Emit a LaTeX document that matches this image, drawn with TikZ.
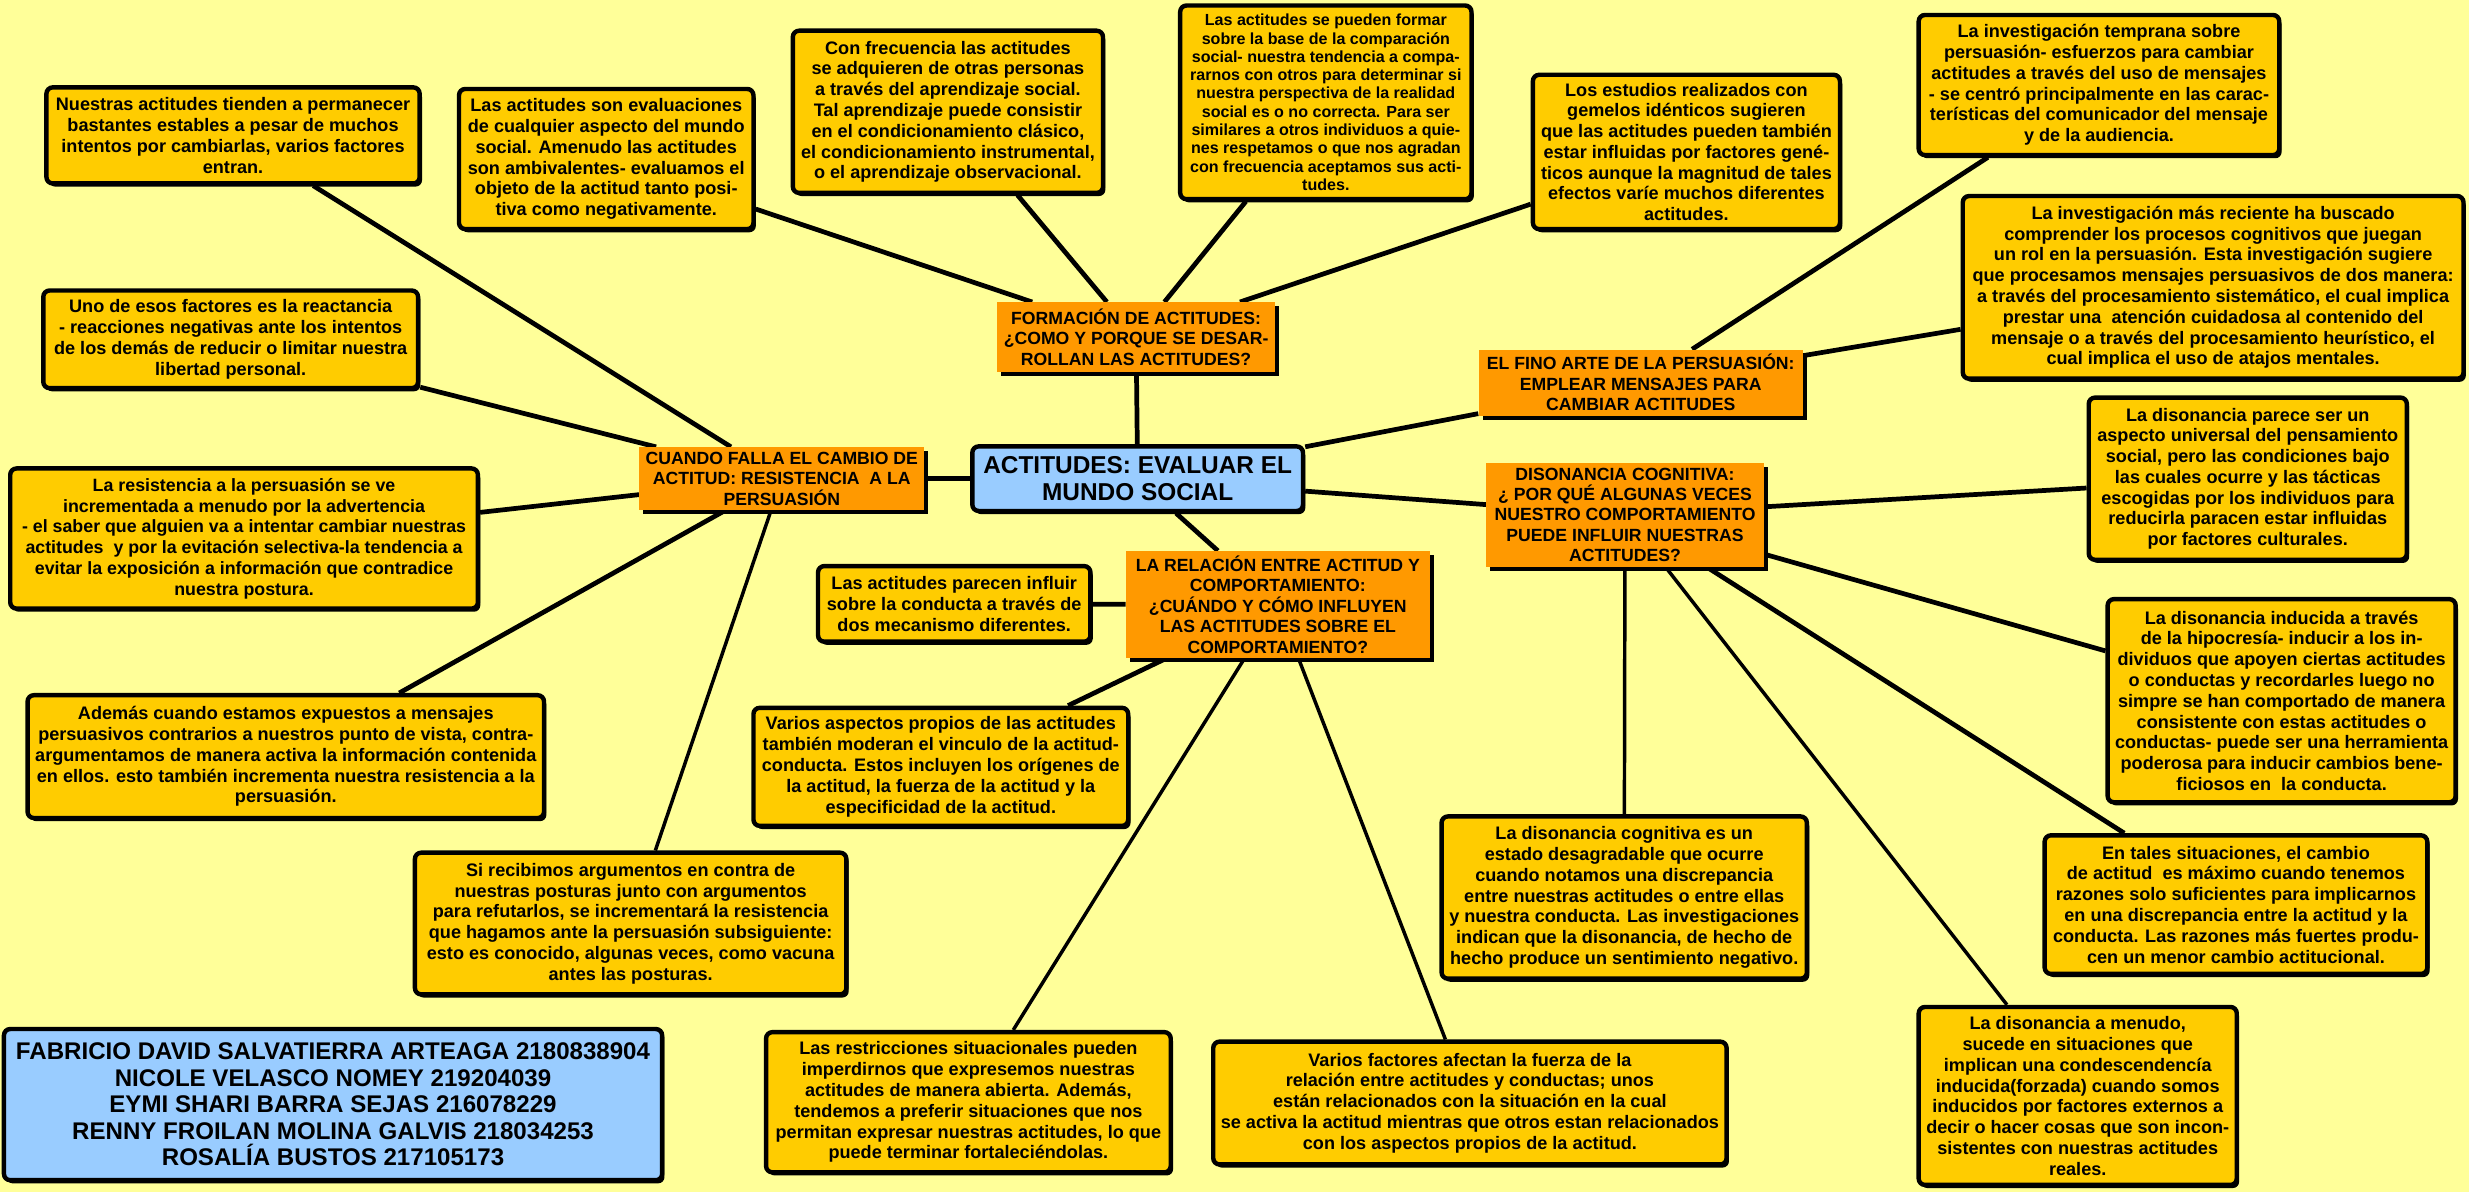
\documentclass[tikz,border=0pt]{standalone}
\usepackage{fontspec}
\setmainfont{Liberation Sans}
\usepackage{tikz}
\usetikzlibrary{positioning,shadows,backgrounds}
\usepackage{xcolor}
\definecolor{fondoCrema}{RGB}{255,255,153}
\definecolor{hojaOro}{RGB}{255,204,0}
\definecolor{temaNaranja}{RGB}{255,153,0}
\definecolor{centroAzul}{RGB}{153,204,255}

\begin{document}
\begin{tikzpicture}[x=1pt,y=-1pt,
  hoja/.style={draw=black,line width=2.8pt,rounded corners=4pt,fill=hojaOro,align=center,inner sep=0.5pt,
    font=\bfseries\fontsize{11.5}{13.2}\selectfont,
    drop shadow={shadow xshift=1.5pt,shadow yshift=-2pt,fill=black,opacity=1}},
  tema/.style={fill=temaNaranja,align=center,inner sep=0.5pt,
    font=\bfseries\fontsize{11.2}{13}\selectfont,
    drop shadow={shadow xshift=2.5pt,shadow yshift=-2.5pt,fill=black,opacity=1}},
  central/.style={draw=black,line width=2.8pt,rounded corners=4pt,fill=centroAzul,align=center,inner sep=0.5pt,
    drop shadow={shadow xshift=1.5pt,shadow yshift=-2pt,fill=black,opacity=1}},
  enlace/.style={line width=3pt},
  delgado/.style={line width=2.2pt}]
  \useasboundingbox (0,0) rectangle (1568,757);

  % tema central y ramas
  \node[central,font=\bfseries\fontsize{15.5}{17}\selectfont,minimum width=210pt,minimum height=41pt] (centro) at (722.5,304)
    {ACTITUDES: EVALUAR EL\\MUNDO SOCIAL};
  \node[tema,minimum width=177pt,minimum height=44pt] (formacion) at (721.5,214)
    {FORMACIÓN DE ACTITUDES:\\¿COMO Y PORQUE SE DESAR-\\ROLLAN LAS ACTITUDES?};
  \node[tema,minimum width=206pt,minimum height=42pt] (fino) at (1042,243)
    {EL FINO ARTE DE LA PERSUASIÓN:\\EMPLEAR MENSAJES PARA\\CAMBIAR ACTITUDES};
  \node[tema,minimum width=176pt,minimum height=66pt] (disonancia) at (1032,327)
    {DISONANCIA COGNITIVA:\\¿ POR QUÉ ALGUNAS VECES\\NUESTRO COMPORTAMIENTO\\PUEDE INFLUIR NUESTRAS\\ACTITUDES?};
  \node[tema,minimum width=193pt,minimum height=68pt] (relacion) at (811.5,384)
    {LA RELACIÓN ENTRE ACTITUD Y\\COMPORTAMIENTO:\\¿CUÁNDO Y CÓMO INFLUYEN\\LAS ACTITUDES SOBRE EL\\COMPORTAMIENTO?};
  \node[tema,minimum width=181pt,minimum height=40pt] (resistencia) at (496.5,304)
    {CUANDO FALLA EL CAMBIO DE\\ACTITUD: RESISTENCIA\ \ A LA\\PERSUASIÓN};

  % formacion
  \node[hoja,minimum width=187pt,minimum height=89pt] (evaluaciones) at (385,101)
    {Las actitudes son evaluaciones\\de cualquier aspecto del mundo\\social. Amenudo las actitudes\\son ambivalentes- evaluamos el\\objeto de la actitud tanto posi-\\tiva como negativamente.};
  \node[hoja,minimum width=197pt,minimum height=103pt] (aprendizaje) at (602,71)
    {Con frecuencia las actitudes\\se adquieren de otras personas\\a través del aprendizaje social.\\Tal aprendizaje puede consistir\\en el condicionamiento clásico,\\el condicionamiento instrumental,\\o el aprendizaje observacional.};
  \node[hoja,font=\bfseries\fontsize{10.2}{11.6}\selectfont,minimum width=185pt,minimum height=123pt] (comparacion) at (842,65)
    {Las actitudes se pueden formar\\sobre la base de la comparación\\social- nuestra tendencia a compa-\\rarnos con otros para determinar si\\nuestra perspectiva de la realidad\\social es o no correcta. Para ser\\similares a otros individuos a quie-\\nes respetamos o que nos agradan\\con frecuencia aceptamos sus acti-\\tudes.};
  \node[hoja,minimum width=195pt,minimum height=98pt] (gemelos) at (1071,96.5)
    {Los estudios realizados con\\gemelos idénticos sugieren\\que las actitudes pueden también\\estar influidas por factores gené-\\ticos aunque la magnitud de tales\\efectos varíe muchos diferentes\\actitudes.};

  % persuasion
  \node[hoja,minimum width=229pt,minimum height=89pt] (temprana) at (1333,54)
    {La investigación temprana sobre\\persuasión- esfuerzos para cambiar\\actitudes a través del uso de mensajes\\- se centró principalmente en las carac-\\terísticas del comunicador del mensaje\\y de la audiencia.};
  \node[hoja,minimum width=318pt,minimum height=116pt] (reciente) at (1405.5,182.5)
    {La investigación más reciente ha buscado\\comprender los procesos cognitivos que juegan\\un rol en la persuasión. Esta investigación sugiere\\que procesamos mensajes persuasivos de dos manera:\\a través del procesamiento sistemático, el cual implica\\prestar una\ \ atención cuidadosa al contenido del\\mensaje o a través del procesamiento heurístico, el\\cual implica el uso de atajos mentales.};

  % disonancia
  \node[hoja,minimum width=202pt,minimum height=103pt] (universal) at (1427.5,304)
    {La disonancia parece ser un\\aspecto universal del pensamiento\\social, pero las condiciones bajo\\las cuales ocurre y las tácticas\\escogidas por los individuos para\\reducirla paracen estar influidas\\por factores culturales.};
  \node[hoja,minimum width=221pt,minimum height=129pt] (hipocresia) at (1449,445)
    {La disonancia inducida a través\\de la hipocresía- inducir a los in-\\dividuos que apoyen ciertas actitudes\\o conductas y recordarles luego no\\simpre se han comportado de manera\\consistente con estas actitudes o\\conductas- puede ser una herramienta\\poderosa para inducir cambios bene-\\ficiosos en\ \ la conducta.};
  \node[hoja,minimum width=243pt,minimum height=88pt] (tales) at (1420,574.5)
    {En tales situaciones, el cambio\\de actitud\ \ es máximo cuando tenemos\\razones solo suficientes para implicarnos\\en una discrepancia entre la actitud y la\\conducta. Las razones más fuertes produ-\\cen un menor cambio actitucional.};
  \node[hoja,minimum width=202pt,minimum height=113pt] (menudo) at (1319.5,696)
    {La disonancia a menudo,\\sucede en situaciones que\\implican una condescendencía\\inducida(forzada) cuando somos\\inducidos por factores externos a\\decir o hacer cosas que son incon-\\sistentes con nuestras actitudes\\reales.};
  \node[hoja,minimum width=232pt,minimum height=103pt] (desagradable) at (1031.5,570)
    {La disonancia cognitiva es un\\estado desagradable que ocurre\\cuando notamos una discrepancia\\entre nuestras actitudes o entre ellas\\y nuestra conducta. Las investigaciones\\indican que la disonancia, de hecho de\\hecho produce un sentimiento negativo.};

  % relacion actitud-comportamiento
  \node[hoja,minimum width=173pt,minimum height=48pt] (mecanismos) at (606,383.5)
    {Las actitudes parecen influir\\sobre la conducta a través de\\dos mecanismo diferentes.};
  \node[hoja,minimum width=238pt,minimum height=75pt] (aspectos) at (597.5,487)
    {Varios aspectos propios de las actitudes\\también moderan el vinculo de la actitud-\\conducta. Estos incluyen los orígenes de\\la actitud, la fuerza de la actitud y la\\especificidad de la actitud.};
  \node[hoja,minimum width=257pt,minimum height=89pt] (restricciones) at (615,700)
    {Las restricciones situacionales pueden\\imperdirnos que expresemos nuestras\\actitudes de manera abierta. Además,\\tendemos a preferir situaciones que nos\\permitan expresar nuestras actitudes, lo que\\puede terminar fortaleciéndolas.};
  \node[hoja,minimum width=326pt,minimum height=78pt] (fuerza) at (933.5,700.5)
    {Varios factores afectan la fuerza de la\\relación entre actitudes y conductas; unos\\están relacionados con la situación en la cual\\se activa la actitud mientras que otros estan relacionados\\con los aspectos propios de la actitud.};

  % resistencia
  \node[hoja,minimum width=237pt,minimum height=61pt] (estables) at (148,86)
    {Nuestras actitudes tienden a permanecer\\bastantes estables a pesar de muchos\\intentos por cambiarlas, varios factores\\entran.};
  \node[hoja,minimum width=238pt,minimum height=62pt] (reactancia) at (146.5,215.5)
    {Uno de esos factores es la reactancia\\- reacciones negativas ante los intentos\\de los demás de reducir o limitar nuestra\\libertad personal.};
  \node[hoja,font=\bfseries\fontsize{11.3}{13.2}\selectfont,minimum width=297pt,minimum height=89pt] (advertencia) at (155,342)
    {La resistencia a la persuasión se ve\\incrementada a menudo por la advertencia\\- el saber que alguien va a intentar cambiar nuestras\\actitudes\ \ y por la evitación selectiva-la tendencia a\\evitar la exposición a información que contradice\\nuestra postura.};
  \node[hoja,minimum width=328pt,minimum height=78pt] (expuestos) at (181.5,480.5)
    {Además cuando estamos expuestos a mensajes\\persuasivos contrarios a nuestros punto de vista, contra-\\argumentamos de manera activa la información contenida\\en ellos. esto también incrementa nuestra resistencia a la\\persuasión.};
  \node[hoja,minimum width=274pt,minimum height=90pt] (vacuna) at (400.5,586.5)
    {Si recibimos argumentos en contra de\\nuestras posturas junto con argumentos\\para refutarlos, se incrementará la resistencia\\que hagamos ante la persuasión subsiguiente:\\esto es conocido, algunas veces, como vacuna\\antes las posturas.};

  % autores
  \node[central,font=\bfseries\fontsize{15.3}{16.8}\selectfont,minimum width=418pt,minimum height=96pt] (autores) at (211.5,701.5)
    {FABRICIO DAVID SALVATIERRA ARTEAGA 2180838904\\NICOLE VELASCO NOMEY 219204039\\EYMI SHARI BARRA SEJAS 216078229\\RENNY FROILAN MOLINA GALVIS 218034253\\ROSALÍA BUSTOS 217105173};

  \begin{scope}[on background layer]
    \fill[fondoCrema] (0,0) rectangle (1568,757);
    \draw[enlace] (centro) -- (formacion);
    \draw[enlace] (centro) -- (fino);
    \draw[enlace] (centro) -- (disonancia);
    \draw[enlace] (centro) -- (resistencia);
    \draw[enlace] (centro) -- (relacion);
    \foreach \h in {evaluaciones,aprendizaje,comparacion,gemelos}
      \draw[enlace] (formacion) -- (\h);
    \foreach \h in {temprana,reciente}
      \draw[enlace] (fino) -- (\h);
    \foreach \h in {universal,hipocresia,tales}
      \draw[enlace] (disonancia) -- (\h);
    \draw[delgado] (disonancia) -- (menudo);
    \draw[delgado] (disonancia) -- (desagradable);
    \draw[enlace] (relacion) -- (mecanismos);
    \draw[enlace] (relacion) -- (aspectos);
    \draw[delgado] (relacion) -- (restricciones);
    \draw[delgado] (relacion) -- (fuerza);
    \foreach \h in {estables,reactancia,advertencia,expuestos}
      \draw[enlace] (resistencia) -- (\h);
    \draw[delgado] (resistencia) -- (vacuna);
  \end{scope}
\end{tikzpicture}
\end{document}
